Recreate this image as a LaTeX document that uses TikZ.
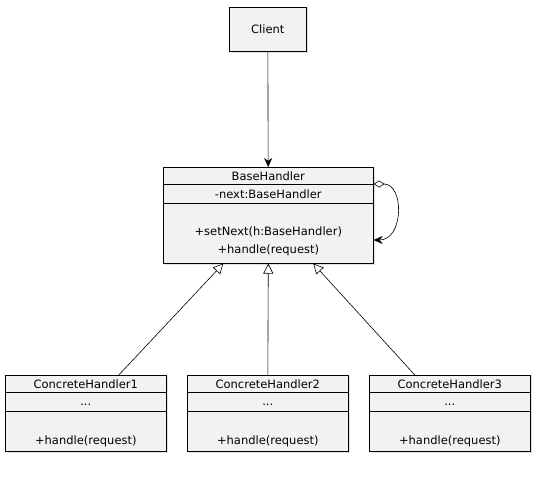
\documentclass[tikz,border=0pt]{standalone}
\usepackage{fontspec}
\setmainfont{DejaVu Sans}
\usetikzlibrary{arrows.meta, calc, positioning, shadows}
\definecolor{boxfill}{RGB}{242, 242, 242}

\tikzset{
    classbox/.style={draw, line width=0.6pt, fill=boxfill, inner sep=0pt, anchor=north west,
        drop shadow={shadow xshift=2pt, shadow yshift=-2pt, opacity=0.25}},
    classtext/.style={inner sep=1pt},
}

\begin{document}
\begin{tikzpicture}[x=1pt, y=-1pt, line width=0.6pt, >={Stealth[length=9pt,width=8pt]},
    font=\fontsize{11.5}{13}\selectfont]

    \useasboundingbox (0,0) rectangle (535,495);

    % ==========================================================
    % cliente y clase base
    % ==========================================================
    \node[classbox, minimum width=77pt, minimum height=44pt] (client) at (229,7) {};
    \node[classtext] (clientname) at (client.center) {Client};

    \node[classbox, minimum width=210pt, minimum height=96pt] (base) at (163,167) {};
    \draw ($(base.north west)+(0,17)$) -- ($(base.north east)+(0,17)$);
    \draw ($(base.north west)+(0,36)$) -- ($(base.north east)+(0,36)$);
    \node[classtext] (basename) at ($(base.north)+(0,9)$) {BaseHandler};
    \node[classtext] (baseattr) at ($(base.north)+(0,27)$) {-next:BaseHandler};
    \node[classtext] (baseset) at ($(base.north)+(0,65)$) {+setNext(h:BaseHandler)};
    \node[classtext] (baseop) at ($(base.north)+(0,83)$) {+handle(request)};

    \draw[->] (client) -- (base);

    % auto-referencia next
    \draw[{Diamond[open,length=11pt,width=7pt]}->]
        ($(base.north east)+(0,17)$) to[out=0, in=0, looseness=1.4] ($(base.north east)+(0,73)$);

    % ==========================================================
    % manejadores concretos
    % ==========================================================
    \foreach \i/\x in {1/5, 2/187, 3/369} {
        \node[classbox, minimum width=161pt, minimum height=76pt] (c\i) at (\x,375) {};
        \draw ($(c\i.north west)+(0,17)$) -- ($(c\i.north east)+(0,17)$);
        \draw ($(c\i.north west)+(0,36)$) -- ($(c\i.north east)+(0,36)$);
        \node[classtext] (c\i name) at ($(c\i.north)+(0,9)$) {ConcreteHandler\i};
        \node[classtext] (c\i attr) at ($(c\i.north)+(0,30)$) {...};
        \node[classtext] (c\i op) at ($(c\i.north)+(0,66)$) {+handle(request)};
    }

    % herencia
    \foreach \i/\dc/\db in {1/33/-45, 2/0/0, 3/-35/45} {
        \draw[-{Triangle[open,length=10pt,width=10pt]}]
            ($(c\i.north)+(\dc,0)$) -- ($(base.south)+(\db,0)$);
    }

\end{tikzpicture}
\end{document}
